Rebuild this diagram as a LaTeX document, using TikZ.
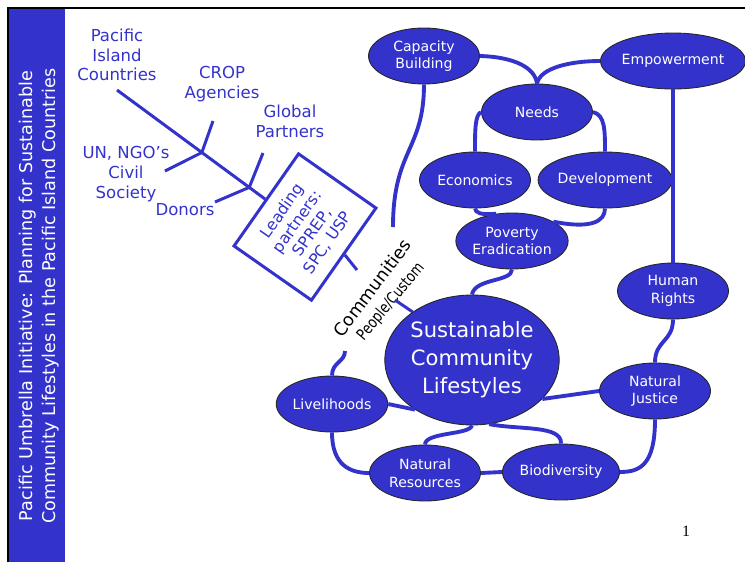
\documentclass[tikz,border=0pt]{standalone}
\usepackage{fontspec}
\setmainfont{DejaVu Sans}
\newfontfamily\numfont{Liberation Serif}
\usepackage{graphicx}
\usepackage{tikz}
\usetikzlibrary{shapes.geometric, calc}
\definecolor{umbrella}{RGB}{51,51,204}

\begin{document}
\begin{tikzpicture}[x=0.02cm, y=-0.02cm,
  bubble/.style={ellipse, draw=black!85, line width=0.5pt, fill=umbrella, text=white,
    inner sep=0pt, minimum width=2.22cm, minimum height=1.12cm, align=center,
    font=\fontsize{8}{10}\selectfont},
  link/.style={draw=umbrella, line width=2.2pt},
  bone/.style={draw=umbrella, line width=1.7pt},
  actor/.style={text=umbrella, align=center, font=\fontsize{9.4}{11.2}\selectfont}]
  \useasboundingbox (0,0) rectangle (745,562);
  % \draw[gray] (0,0) grid[step=50] (745,562);
  \fill[umbrella] (9,9) rectangle (65,562);
  \draw[black, line width=0.8pt] (8,562) -- (8,8) -- (745,8);
  \node[rotate=90, text=white, align=center, font=\fontsize{10}{13}\selectfont] (title) at (39,296)
    {Pacific Umbrella Initiative: Planning for Sustainable\\Community Lifestyles in the Pacific Island Countries};

  \node[bubble] (cap) at (424,56) {Capacity\\Building};
  \node[bubble] (emp) at (673,61) {Empowerment};
  \node[bubble] (needs) at (537,112) {Needs};
  \node[bubble] (econ) at (475,180) {Economics};
  \node[bubble] (dev) at (605,180) {Development};
  \node[bubble] (pov) at (512,241) {Poverty\\Eradication};
  \node[bubble] (hr) at (673,291) {Human\\Rights};
  \node[bubble, minimum width=3.1cm, minimum height=2.6cm, font=\fontsize{12}{16}\selectfont] (scl) at (472,360)
    {Sustainable\\Community\\Lifestyles};
  \node[bubble] (nj) at (655,391) {Natural\\Justice};
  \node[bubble] (liv) at (332,404) {Livelihoods};
  \node[bubble] (nr) at (425,473) {Natural\\Resources};
  \node[bubble] (bio) at (561,472) {Biodiversity};

  \node[draw=umbrella, line width=1.7pt, rotate=55, minimum width=2.25cm, minimum height=1.89cm,
    text=umbrella, align=center, font=\fontsize{9}{10.5}\selectfont] (lead) at (305,227)
    {Leading\\partners:\\SPREP,\\SPC, USP};

  \node[actor] (pic) at (117,55) {Pacific\\Island\\Countries};
  \node[actor] (crop) at (222,84) {CROP\\Agencies};
  \node[actor] (glob) at (290,121) {Global\\Partners};
  \node[actor] (un) at (126,174) {UN, NGO’s\\Civil\\Society};
  \node[actor] (don) at (185,210) {Donors};

  \coordinate (spine) at (117,90);
  \coordinate (j1) at ($(spine)!0.573!(lead.north)$);
  \coordinate (j2) at ($(spine)!0.893!(lead.north)$);
  \coordinate (cropEnd) at (213,121);
  \coordinate (unEnd) at (165,171);
  \coordinate (globEnd) at (263,153);
  \coordinate (donEnd) at (215,202);
  \draw[bone] (spine) -- (lead.north);
  \draw[bone] (cropEnd) -- (j1) -- (unEnd);
  \draw[bone] (globEnd) -- (j2) -- (donEnd);

  \node[rotate=53, font=\fontsize{10}{12}\selectfont] (comm) at (372,288) {Communities};
  \node[rotate=50, font=\fontsize{9}{11}\selectfont] (ppl) at (391,302) {\scalebox{0.8}[1]{People/Custom}};
  \coordinate (commIn) at (357,270);
  \coordinate (commOut) at (395,300);
  \draw[bone] (lead.south) -- (commIn);
  \draw[bone] (commOut) -- (scl.141);

  \coordinate (capEnd) at (393,227);
  \coordinate (livEnd) at (345,351);
  \draw[link] (cap.east) .. controls (515,57) and (535,68) .. (needs.north);
  \draw[link] (emp.west) .. controls (570,61) and (540,68) .. (needs.north);
  \draw[link] (needs.west) .. controls (475,115) and (475,130) .. (econ.north);
  \draw[link] (needs.east) .. controls (605,115) and (605,130) .. (dev.north);
  \draw[link] (econ.south) .. controls (476,213) and (480,215) .. (pov.120);
  \draw[link] (dev.south) .. controls (605,222) and (590,229) .. (pov.25);
  \draw[link] (cap.south) .. controls (424,150) and (393,150) .. (capEnd);
  \draw[link] (pov.south) .. controls (512,282) and (475,278) .. (scl.north);
  \draw[link] (emp.south) -- (hr.north);
  \draw[link] (hr.south) .. controls (673,342) and (655,340) .. (nj.north);
  \draw[link] (scl.-29) -- (nj.west);
  \draw[link] (liv.east) -- (scl.221);
  \draw[link] (liv.north) .. controls (332,362) and (345,362) .. (livEnd);
  \draw[link] (liv.south) .. controls (332,465) and (350,473) .. (nr.west);
  \draw[link] (nr.east) -- (bio.west);
  \draw[link] (scl.south) .. controls (470,435) and (425,432) .. (nr.north);
  \draw[link] (scl.-75) .. controls (520,430) and (562,425) .. (bio.north);
  \draw[link] (nj.south) .. controls (655,465) and (640,472) .. (bio.east);

  \node[font=\numfont\fontsize{9}{10}\selectfont] (pagenum) at (686,531) {1};
\end{tikzpicture}
\end{document}
